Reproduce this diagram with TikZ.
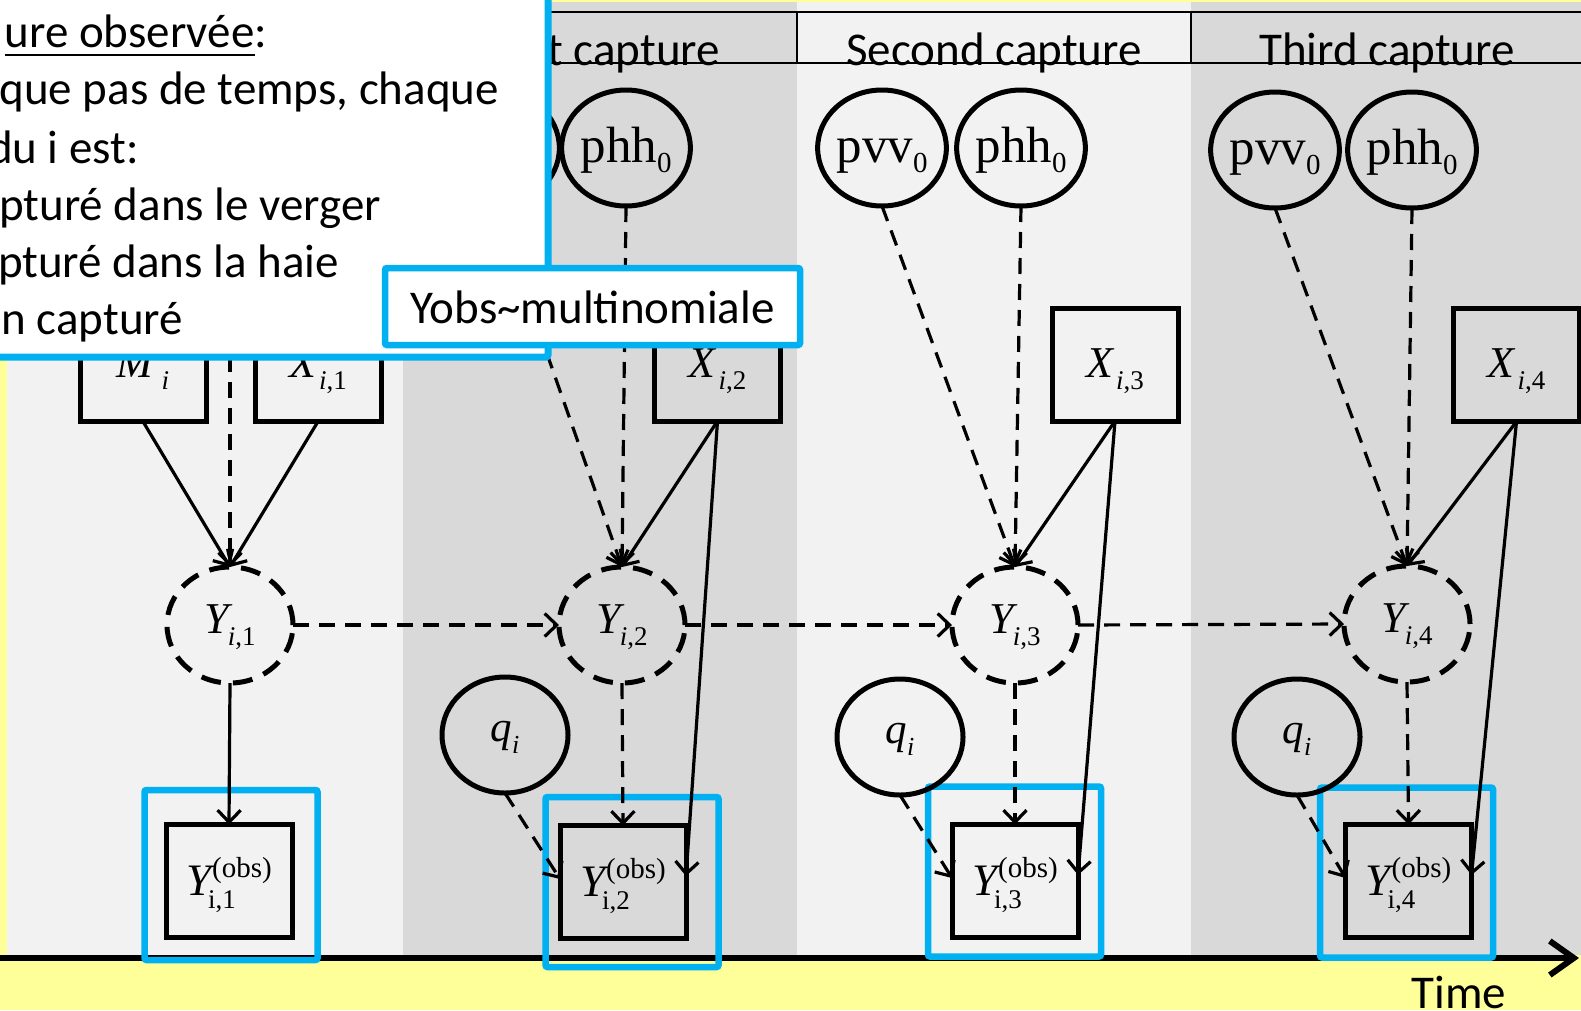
\documentclass[tikz,border=0pt]{standalone}
\usepackage{fontspec}
\setmainfont{Carlito}
\newfontfamily\tnr{Liberation Serif}
\usetikzlibrary{arrows.meta,shapes.geometric}
\definecolor{bgyellow}{HTML}{FFFF99}
\definecolor{bandlight}{HTML}{F2F2F2}
\definecolor{banddark}{HTML}{D9D9D9}
\definecolor{hlblue}{HTML}{00B0F0}
\newcommand\fsz[1]{\fontsize{#1pt}{#1pt}\selectfont}
\newcommand\vX[2]{{\tnr\fsz{44}\itshape #1}\kern3pt\raisebox{-12pt}{\tnr\fsz{27}\itshape i\upshape,#2}}
\newcommand\vM{{\tnr\fsz{44}\itshape M}\kern8pt\raisebox{-12pt}{\tnr\fsz{27}\itshape i}}
\newcommand\vY[1]{{\tnr\fsz{44}\itshape Y}\kern-1pt\raisebox{-12pt}{\tnr\fsz{27}\itshape i\upshape,#1}}
\newcommand\vYobs[1]{{\tnr\fsz{45}\itshape Y}\rlap{\kern-3pt\raisebox{-13pt}{\tnr\fsz{27}i,#1}}\kern1pt\raisebox{18pt}{\tnr\fsz{29}(obs)}}
\newcommand\vP[1]{{\tnr\fsz{51}#1}\raisebox{-10pt}{\tnr\fsz{29}0}}
\newcommand\vQ{{\tnr\fsz{43}\itshape q}\raisebox{-12pt}{\tnr\fsz{26}\itshape i}}
\tikzset{
  every node/.style={outer sep=0pt},
  txt/.style={font=\fsz{47}, inner sep=0pt},
  sqbox/.style={draw, line width=5pt, minimum width=126pt, minimum height=113pt, inner sep=0pt, text height=36pt, text depth=11pt},
  obsbox/.style={draw, line width=5pt, minimum width=126pt, minimum height=113pt, inner sep=0pt, text height=38pt, text depth=10pt},
  pnode/.style={draw, ellipse, line width=5pt, minimum width=126pt, minimum height=116pt, inner sep=0pt, text height=36pt, text depth=8pt},
  qnode/.style={draw, ellipse, line width=5pt, minimum width=126pt, minimum height=116pt, inner sep=0pt, text height=26pt, text depth=14pt},
  ynode/.style={draw, ellipse, line width=5pt, dash pattern=on 20pt off 12pt, minimum width=126pt, minimum height=116pt, inner sep=0pt, text height=28pt, text depth=12pt},
  hlbox/.style={draw=hlblue, line width=6.5pt, rounded corners=2pt, minimum width=173pt, minimum height=170pt, inner sep=0pt},
  solidarr/.style={line width=3.2pt, -{Straight Barb[length=12pt,width=23pt]}},
  dasharr/.style={solidarr, dash pattern=on 16pt off 10pt},
  hdr/.style={line width=2pt}
}
\begin{document}
\begin{tikzpicture}[x=1pt,y=-1pt]
\useasboundingbox (0,0) rectangle (1581,1010);
\clip (0,0) rectangle (1581,1010);
\fill[bgyellow] (0,0) rectangle (1581,1010);
% bands
\fill[bandlight] (7,2) rectangle (403,955);
\fill[banddark] (403,2) rectangle (797,955);
\fill[bandlight] (797,2) rectangle (1191,955);
\fill[banddark] (1191,2) rectangle (1581,955);
% header
\draw[hdr] (7,12) -- (1581,12);
\draw[hdr] (7,63) -- (1581,63);
\draw[hdr] (403,12) -- (403,63);
\draw[hdr] (797,12) -- (797,63);
\draw[hdr] (1191,12) -- (1191,63);
\node[txt, anchor=base east] (h1) at (720,65) {t capture};
\node[txt, anchor=base] (h2) at (994,65) {Second capture};
\node[txt, anchor=base] (h3) at (1387,65) {Third capture};
% time axis
\coordinate (t0) at (0,958);
\coordinate (t1) at (1579,958);
\draw[line width=6pt, -{Straight Barb[length=24pt,width=34pt]}] (t0) -- (t1);
\node[txt, anchor=base] (time) at (1459,1008) {Time};
% highlight boxes
\node[hlbox] (hl1) at (231,875) {};
\node[hlbox] (hl2) at (632,882) {};
\node[hlbox] (hl3) at (1014.5,871.5) {};
\node[hlbox] (hl4) at (1406.5,872.5) {};
% column 1
\node[sqbox] (M1) at (143,365) {\vM};
\node[sqbox] (X1) at (318,365) {\vX{X}{1}};
\node[ynode] (Y1) at (230,625) {\vY{1}};
\node[obsbox] (Yo1) at (229,881) {\vYobs{1}};
\coordinate (c1) at (230,330);
% column 2
\node[pnode] (pvv2) at (495,148) {\vP{pvv}};
\node[pnode] (phh2) at (626,148) {\vP{phh}};
\node[sqbox] (X2) at (717.5,364.5) {\vX{X}{2}};
\node[ynode] (Y2) at (622,625) {\vY{2}};
\node[qnode] (q2) at (505,735) {\vQ};
\node[obsbox] (Yo2) at (623,882) {\vYobs{2}};
% column 3
\node[pnode] (pvv3) at (882,148) {\vP{pvv}};
\node[pnode] (phh3) at (1021,148) {\vP{phh}};
\node[sqbox] (X3) at (1115,364.5) {\vX{X}{3}};
\node[ynode] (Y3) at (1015,625) {\vY{3}};
\node[qnode] (q3) at (900,737) {\vQ};
\node[obsbox] (Yo3) at (1015,881) {\vYobs{3}};
% column 4
\node[pnode] (pvv4) at (1275,150) {\vP{pvv}};
\node[pnode] (phh4) at (1412,150) {\vP{phh}};
\node[sqbox] (X4) at (1516.5,365) {\vX{X}{4}};
\node[ynode] (Y4) at (1407,624) {\vY{4}};
\node[qnode] (q4) at (1297,737) {\vQ};
\node[obsbox] (Yo4) at (1408.5,881) {\vYobs{4}};
% connectors column 1
\draw[dasharr] (c1) -- (Y1.north);
\draw[solidarr] (M1.south) -- (Y1.north);
\draw[solidarr] (X1.south) -- (Y1.north);
\draw[solidarr] (Y1.south) -- (Yo1.north);
\draw[dasharr] (Y1.east) -- (Y2.west);
% connectors columns 2-4
\foreach \k in {2,3,4}{
  \draw[dasharr] (pvv\k.south) -- (Y\k.north);
  \draw[dasharr] (phh\k.south) -- (Y\k.north);
  \draw[solidarr] (X\k.south) -- (Y\k.north);
  \draw[solidarr] (X\k.south) -- ([yshift=6pt]Yo\k.east);
  \draw[dasharr] (Y\k.south) -- (Yo\k.north);
  \draw[dasharr] (q\k.south) -- ([yshift=3pt]Yo\k.west);
}
\draw[dasharr] (Y2.east) -- (Y3.west);
\draw[dasharr] (Y3.east) -- (Y4.west);
% info box
\node[draw=hlblue, fill=white, line width=7pt, rounded corners=2pt, minimum width=700pt, minimum height=450pt, anchor=south east] (info) at (548,357) {};
\node[txt, anchor=base east] (l1) at (267,47) {ure observée:};
\draw[line width=2.5pt] ([yshift=-8pt]l1.base west) -- ++(250,0);
\node[txt, anchor=base east] (l2) at (499,104) {que pas de temps, chaque};
\node[txt, anchor=base east] (l3) at (139,163) {du i est:};
\node[txt, anchor=base east] (l4) at (381,220) {pturé dans le verger};
\node[txt, anchor=base east] (l5) at (339,277) {pturé dans la haie};
\node[txt, anchor=base east] (l6) at (183,334) {n capturé};
% Yobs box
\node[draw=hlblue, fill=white, line width=6.5pt, rounded corners=2pt, minimum width=415pt, minimum height=77pt, inner sep=0pt, font=\fsz{47}, text height=34pt, text depth=0pt] (yobs) at (592.5,306.5) {Yobs\textasciitilde multinomiale};
\end{tikzpicture}
\end{document}
